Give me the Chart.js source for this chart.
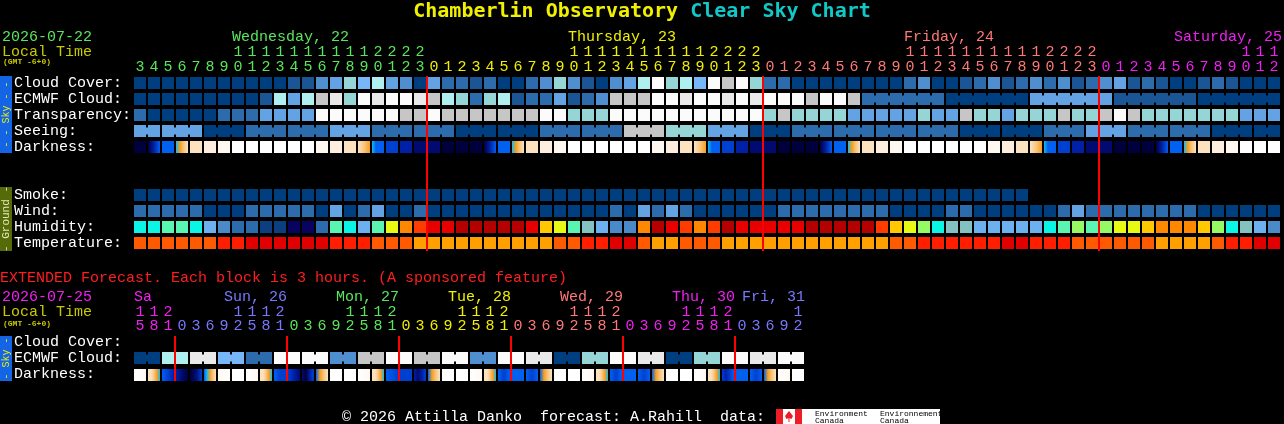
<!DOCTYPE html>
<html><head><meta charset="utf-8">
<script src="https://cdn.jsdelivr.net/npm/chart.js@4.4.1/dist/chart.umd.min.js"></script>
<style>html,body{margin:0;padding:0;background:#000;overflow:hidden}canvas{display:block}</style>
</head><body>
<canvas id="c" width="1284" height="424"></canvas>
<script>
// ---------------- DATA ----------------
// Hourly forecast columns (local time)
const topHours = [3,4,5,6,7,8,9,10,11,12,13,14,15,16,17,18,19,20,21,22,23,
  0,1,2,3,4,5,6,7,8,9,10,11,12,13,14,15,16,17,18,19,20,21,22,23,
  0,1,2,3,4,5,6,7,8,9,10,11,12,13,14,15,16,17,18,19,20,21,22,23,
  0,1,2,3,4,5,6,7,8,9,10,11,12];
const topDays = ['Wednesday, 22','Thursday, 23','Friday, 24','Saturday, 25'];

// levels: 0 = clear ... 10 = overcast
const cloudCover = [0,0,0,0,0,0,0,0,0,0,0, 1,1,3,4,6,5,7,4,3,0,
  4,2,2,1,2,0,0,2,3,6, 3,1,0,3,4,7,10,6,7,5, 10,8,10,6,2,2,0,0,0,0,
  0,0,0,0,2,3,0,0,1,2, 3,1,2,3,2,3,1,2,3,4, 1,2,1,0,0,1,2,1,0,0,0];
const ecmwfCloud = [0,0,0,0,0,0,0,0,0,1,7, 4,7,8,9,6,10,9,10,10,9,
  8,7,6,2,6,7,1,2,2,4, 1,2,3,8,8,8,10,10,9,10, 10,9,10,9,10,10,10,8,10,10,
  8,2,2,2,2,2,2,0,0,0, 0,0,0,4,4,4,4,4,4,1, 1,1,1,1,1,0,0,0,0,0,0];
// 0 = transparent ... 4 = poor, 5 = too cloudy
const transparency = [1,0,0,0,0,0,1,1,1,2,2, 2,2,5,5,5,5,5,5,4,4,
  5,4,4,4,4,4,4,4,5,5, 3,3,3,5,5,5,5,5,5,5, 5,5,5,5,3,4,3,3,3,3,
  2,2,2,2,2,3,2,2,4,3, 3,2,3,3,3,4,3,3,4,5, 4,3,3,3,3,3,3,3,2,2,2];
// 0 = excellent ... 4 = bad, 5 = too cloudy
const seeing = [2,2,2,2,2,0,0,0,1,1,1, 1,1,1,2,2,2,1,1,1,1,
  1,1,0,0,0,0,0,0,1,1, 1,1,1,1,4,4,4,3,3,3, 2,2,2,0,0,0,1,1,1,1,
  1,1,1,1,1,1,1,1,0,0, 0,0,0,0,1,1,1,2,2,2, 1,1,1,1,1,1,0,0,0,0,0];
// darkness level 0 (darkest) ... 11 (daylight); arrays = shading inside the hour
const darkness = [0,[0,2,4],4,[5,6,7,8],8,9,10,11,11,11,11,11,11,10,9,8,[8,7,6],[5,4,4,4],3,2,1,
  1,0,0,0,[0,2,4],4,[5,6,7,8],8,9,10,11,11,11,11,11,11,10,9,8,[8,7,6],[5,4,4,4],3,2,1,
  1,0,0,0,[0,2,4],4,[5,6,7,8],8,9,10,11,11,11,11,11,11,10,9,8,[8,7,6],[5,4,4,4],3,2,1,
  1,0,0,0,[0,2,4],4,[5,6,7,8],8,9,10,11,11,11];
const smoke = [0,0,0,0,0,0,0,0,0,0,0,0,0,0,0,0,0,0,0,0,0,0,0,0,0,0,0,0,0,0,0,0,
  0,0,0,0,0,0,0,0,0,0,0,0,0,0,0,0,0,0,0,0,0,0,0,0,0,0,0,0,0,0,0,0];
const wind = [1,1,1,1,1,0,0,0,1,1,1, 1,1,0,2,0,1,2,0,0,1,
  0,0,0,0,0,0,0,0,0,0, 0,0,0,1,0,2,1,2,1,0, 0,0,0,0,0,1,1,1,1,1,
  1,1,1,0,0,0,0,1,1,0, 0,0,0,0,0,1,2,1,1,1, 1,1,1,1,1,0,0,0,0,0,0];
const humidity = [6,6,7,7,6,4,3,2,2,1,1, 0,0,2,7,6,4,7,9,11,12,
  13,13,14,14,14,14,14,13,10,9, 7,5,4,3,3,11,14,13,12,11, 12,14,13,13,13,13,13,14,14,14,
  14,14,12,10,9,8,6,5,5,4, 4,4,4,4,6,7,8,7,8,9, 9,10,11,11,11,10,8,6,5,4,3];
const temperature = [1,1,1,1,1,1,2,2,3,3,3, 3,3,3,2,2,2,1,1,1,0,
  0,0,0,0,0,0,0,0,0,1, 1,2,2,3,3,1,0,0,1,1, 1,0,0,0,0,0,0,0,0,0,
  0,0,0,1,1,2,2,2,2,2, 2,3,3,2,2,2,1,1,1,1, 1,1,0,0,0,0,1,2,2,3,3];

// Extended forecast: 3-hour blocks
const extHours = [15,18,21, 0,3,6,9,12,15,18,21, 0,3,6,9,12,15,18,21, 0,3,6,9,12,15,18,21,
  0,3,6,9,12,15,18,21, 0,3,6,9,12,15,18,21, 0,3,6,9,12];
const extDays = ['Sa','Sun, 26','Mon, 27','Tue, 28','Wed, 29','Thu, 30','Fri, 31'];
// ECMWF cloud per 6-hour period (two 3-hour blocks each)
const extEcmwf6h = [0,7,9,5,2,10,10,3,8,10,8,10,3,10,9,0,6,10,9,0,6,10,9,10];
const extDarkness = [[11,10],[8,8,7,6,5],[4,3,2],[2,1,0],[0,1,3],[4,5,6,7,8],[10,11],11,
  [11,10],[8,8,7,6,5],[4,3,3],[3,2,1],[1,0,2,3],[4,6,7,8],11,11,
  [11,10],[8,8,7,6,5],[4,3],[3,3],[2,1,2,3],[4,6,7,8],11,11,
  [11,10],[8,8,7,6,5],[4,3,4],4,[4,3,4],[4,6,7,8],11,11,
  [11,10],[8,8,7,6,5],[4,3,4],4,[4,3,4],[4,6,7,8],11,11,
  [11,10],[8,8,7,6,5],[3,2,3,4],4,[4,3,4],[4,6,7,8],[11,10],11];

// ---------------- STYLE / LAYOUT ----------------
const cloudPal = ['#003f7f','#1a5695','#2c6cac','#4f8fcf','#63a3e3','#77b7f7','#95d5d5','#afefef','#c6c6c6','#e9e9e9','#fbfbfb'];
const transpPal = ['#003f7f','#2c6cac','#63a3e3','#95d5d5','#c6c6c6','#fbfbfb'];
const windPal = ['#003f7f','#2c6cac','#63a3e3','#95d5d5'];
const humPal = ['#08035f','#0c3f80','#2c6cac','#4a8ac9','#6cb0f0','#84c2c2','#0af5e6','#5af5b0','#96fa64','#e6fa14','#ffc800','#ff8800','#ff3c00','#e80000','#b40000'];
const tempPal = ['#ffa000','#ff5a00','#ff1e00','#e00000'];
const darkPal = ['#00003c','#000a70','#0020a8','#0040d0','#0060f0','#18b8f0','#f5a020','#f9c680','#fde2c0','#ffeedd','#fff8f0','#ffffff'];

const GREEN='#5ae65a', YELLOW='#f0f000', OLIVE='#c8c800', SALMON='#ff7878', MAGENTA='#f020f0', PERI='#7878ff', CYAN='#10c8c8', RED='#ff1e1e';
const topDayColors = [GREEN, YELLOW, SALMON, MAGENTA];
const extDayColors = [MAGENTA, PERI, GREEN, YELLOW, SALMON, MAGENTA, PERI];
const MONO = '"Liberation Mono","DejaVu Sans Mono",monospace';
const TITLE_FONT = '"DejaVu Sans Mono",monospace';

// row positions on the y scale (1 unit = one row pitch)
const ROW = {cloud:0, ecmwf:1, transp:2, seeing:3, dark:4, smoke:7, wind:8, hum:9, temp:10,
             extCloud:16.1875, extEcmwf:17.1875, extDark:18.25};
const H = 0.375, BH = 0.22;

// ---------------- BUILD DATASETS ----------------
function colorFor(ctx, pal) {
  if (!ctx.raw) return '#000';
  const v = ctx.raw.v;
  if (Array.isArray(v)) {
    const xs = ctx.chart.scales.x;
    const px = xs ? xs.getPixelForValue(ctx.raw.x) : NaN;
    if (!isFinite(px)) return pal[v[0]];
    const g = ctx.chart.ctx.createLinearGradient(px - 6, 0, px + 6, 0);
    v.forEach((k, j) => g.addColorStop(j / (v.length - 1), pal[k]));
    return g;
  }
  return pal[v];
}
function rowSet(values, pal, row) {
  return {
    type: 'bar', order: 2, grouped: false, barThickness: 12, inflateAmount: 0, borderWidth: 0,
    data: values.map((v, i) => ({x: i, y: [row - H, row + H], v})),
    backgroundColor: ctx => colorFor(ctx, pal)
  };
}
function bridgeSet(values, pal, row, linked) {
  const data = [];
  for (let i = 0; i < values.length - 1; i++) if (linked(i)) data.push({x: i + 0.5, y: [row - BH, row + BH], v: values[i]});
  return {type: 'bar', order: 3, grouped: false, barThickness: 4, inflateAmount: 0, borderWidth: 0, data,
    backgroundColor: ctx => colorFor(ctx, pal)};
}
const extEcmwf = [];
extEcmwf6h.forEach(v => { extEcmwf.push(v); extEcmwf.push(v); });

const redLines = [];
topHours.forEach((h, i) => { if (i > 0 && h === 0) redLines.push({x: i - 0.5, y: [-0.4375, 10.5]}); });
extHours.forEach((h, i) => { if (i > 0 && h === 0) redLines.push({x: i - 0.5, y: [15.8125, 18.625]}); });

const datasets = [
  {type: 'bar', order: 0, grouped: false, barThickness: 2, inflateAmount: 0, borderWidth: 0, data: redLines, backgroundColor: '#ff0000'},
  rowSet(cloudCover, cloudPal, ROW.cloud),
  rowSet(ecmwfCloud, cloudPal, ROW.ecmwf),
  bridgeSet(ecmwfCloud, cloudPal, ROW.ecmwf, i => i >= 52 && topHours[i + 1] % 6 !== 1),
  rowSet(transparency, transpPal, ROW.transp),
  rowSet(seeing, transpPal, ROW.seeing),
  bridgeSet(seeing, transpPal, ROW.seeing, i => topHours[i + 1] % 3 !== 2),
  rowSet(darkness, darkPal, ROW.dark),
  rowSet(smoke, windPal, ROW.smoke),
  rowSet(wind, windPal, ROW.wind),
  rowSet(humidity, humPal, ROW.hum),
  rowSet(temperature, tempPal, ROW.temp),
  rowSet(extEcmwf, cloudPal, ROW.extEcmwf),
  bridgeSet(extEcmwf, cloudPal, ROW.extEcmwf, i => i % 2 === 0),
  rowSet(extDarkness, darkPal, ROW.extDark)
];

// ---------------- TEXT PLUGIN ----------------
function T(c, s, x, y, col, px, align, weight, fam) {
  c.font = (weight || '') + ' ' + px + 'px ' + (fam || MONO);
  c.fillStyle = col; c.textAlign = align || 'left'; c.fillText(s, x, y);
}
function sideBar(c, y0, y1, bg, fg, label, px) {
  c.fillStyle = bg; c.fillRect(0, y0, 12, y1 - y0);
  c.save(); c.translate(6.5, (y0 + y1) / 2); c.rotate(-Math.PI / 2);
  c.font = px + 'px ' + MONO; c.fillStyle = fg; c.textAlign = 'center'; c.textBaseline = 'middle';
  c.fillText(label, 0, 0); c.restore();
}
const textPlugin = {
  id: 'texts',
  beforeDraw(chart) { const c = chart.ctx; c.save(); c.fillStyle = '#000'; c.fillRect(0, 0, chart.width, chart.height); c.restore(); },
  afterDatasetsDraw(chart) {
    const c = chart.ctx, xs = chart.scales.x, ys = chart.scales.y;
    c.save(); c.textBaseline = 'alphabetic';
    // title
    c.font = 'bold 20px ' + TITLE_FONT;
    const t1 = 'Chamberlin Observatory ', t2 = 'Clear Sky Chart';
    const w1 = c.measureText(t1).width, w2 = c.measureText(t2).width;
    const tx = 642 - (w1 + w2) / 2;
    T(c, t1, tx, 17, YELLOW, 20, 'left', 'bold', TITLE_FONT); T(c, t2, tx + w1, 17, CYAN, 20, 'left', 'bold', TITLE_FONT);
    // top header
    T(c, '2026-07-22', 2, 41, GREEN, 15); T(c, 'Local Time', 2, 56, OLIVE, 15);
    T(c, '(GMT -6+0)', 3, 64, OLIVE, 8, 'left', 'bold');
    let day = 0; const firstTen = [];
    topHours.forEach((h, i) => {
      if (i > 0 && h < topHours[i - 1]) day++;
      const x = xs.getPixelForValue(i), col = topDayColors[day];
      if (h >= 10) T(c, String(Math.floor(h / 10)), x, 56, col, 15, 'center');
      T(c, String(h % 10), x, 71, col, 15, 'center');
      if (h === 10) firstTen[day] = i;
    });
    topDays.forEach((name, d) => {
      c.font = '15px ' + MONO; const w = c.measureText(name).width;
      let x = xs.getPixelForValue(firstTen[d] !== undefined ? firstTen[d] : topHours.length - 1) - 6;
      x = Math.min(x, 1282 - w);
      T(c, name, x, 41, topDayColors[d], 15);
    });
    // row labels
    const lab = (s, row) => T(c, s, 14, ys.getPixelForValue(row) + 4, '#ffffff', 15);
    lab('Cloud Cover:', ROW.cloud); lab('ECMWF Cloud:', ROW.ecmwf); lab('Transparency:', ROW.transp);
    lab('Seeing:', ROW.seeing); lab('Darkness:', ROW.dark); lab('Smoke:', ROW.smoke); lab('Wind:', ROW.wind);
    lab('Humidity:', ROW.hum); lab('Temperature:', ROW.temp);
    lab('Cloud Cover:', ROW.extCloud); lab('ECMWF Cloud:', ROW.extEcmwf); lab('Darkness:', ROW.extDark - 0.06);
    sideBar(c, 76, 153, '#1464e6', YELLOW, '- - Sky - -', 10);
    sideBar(c, 187, 251, '#556b0a', '#e6e6b4', '- Ground -', 11);
    sideBar(c, 336, 381, '#1464e6', YELLOW, '- Sky -', 10);
    // extended header
    T(c, 'EXTENDED Forecast. Each block is 3 hours. (A sponsored feature)', 0, 282, RED, 15);
    T(c, '2026-07-25', 2, 301, MAGENTA, 15); T(c, 'Local Time', 2, 316, OLIVE, 15);
    T(c, '(GMT -6+0)', 3, 326, OLIVE, 8, 'left', 'bold');
    day = 0; const dayFirst = [0], dayLast = [];
    extHours.forEach((h, i) => {
      if (i > 0 && h < extHours[i - 1]) { dayLast[day] = i - 1; day++; dayFirst[day] = i; }
      const x = xs.getPixelForValue(i), col = extDayColors[day];
      if (h >= 10) T(c, String(Math.floor(h / 10)), x, 316, col, 15, 'center');
      T(c, String(h % 10), x, 330, col, 15, 'center');
    });
    dayLast[day] = extHours.length - 1;
    extDays.forEach((name, d) => {
      c.font = '15px ' + MONO; const w = c.measureText(name).width;
      const x = d === 0 ? xs.getPixelForValue(dayFirst[d]) - 6 : xs.getPixelForValue(dayLast[d]) + 7 - w;
      T(c, name, x, 301, extDayColors[d], 15);
    });
    // footer
    T(c, '\u00a9 2026 Attilla Danko  forecast: A.Rahill  data:', 342, 421, '#ffffff', 15);
    c.fillStyle = '#ffffff'; c.fillRect(776, 409, 164, 15);
    c.fillStyle = '#ee1c24'; c.fillRect(776, 409, 7, 15); c.fillRect(795, 409, 7, 15);
    c.beginPath(); c.moveTo(789, 411); c.lineTo(793, 416); c.lineTo(791.5, 419); c.lineTo(789, 418);
    c.lineTo(786.5, 419); c.lineTo(785, 416); c.closePath(); c.fill(); c.fillRect(788.5, 418, 1, 4);
    T(c, 'Environment', 815, 416, '#000', 8); T(c, 'Canada', 815, 423, '#000', 8);
    T(c, 'Environnement', 880, 416, '#000', 8); T(c, 'Canada', 880, 423, '#000', 8);
    c.restore();
  }
};

new Chart(document.getElementById('c'), {
  type: 'bar',
  data: {datasets},
  options: {
    responsive: false, animation: false, events: [],
    layout: {padding: {left: 133, right: 3, top: 0, bottom: 0}},
    plugins: {legend: {display: false}, tooltip: {enabled: false}},
    scales: {
      x: {type: 'linear', min: -0.5, max: 81.5, display: false, offset: false},
      y: {type: 'linear', min: -83 / 16, max: (424 - 83) / 16, reverse: true, display: false}
    }
  },
  plugins: [textPlugin]
});
</script>
</body></html>
